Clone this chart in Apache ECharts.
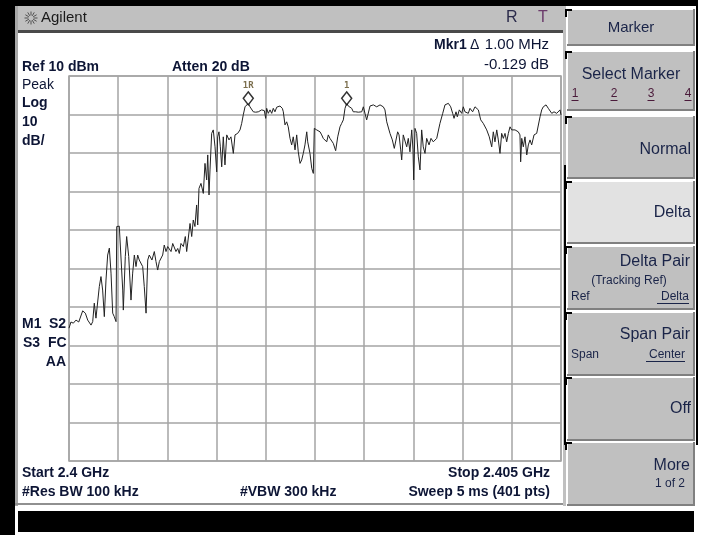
<!DOCTYPE html>
<html><head><meta charset="utf-8">
<script src="https://cdn.jsdelivr.net/npm/echarts@6/dist/echarts.min.js"></script>
<style>html,body{margin:0;padding:0;background:#fff}#c{width:711px;height:535px}</style>
</head><body><div id="c"></div>
<script>
// Frequency offset from start (MHz), start 2.4 GHz, stop 2.405 GHz
const freqMHz = [0,0.02,0.044,0.071,0.099,0.139,0.166,0.19,0.224,0.241,0.257,0.274,0.308,0.325,0.342,0.359,0.376,0.393,0.41,0.427,0.444,0.46,0.478,0.485,0.511,0.528,0.546,0.552,0.572,0.586,0.607,0.63,0.647,0.664,0.681,0.698,0.714,0.732,0.749,0.765,0.783,0.8,0.816,0.843,0.867,0.884,0.901,0.918,0.952,0.968,0.986,1.003,1.037,1.054,1.087,1.105,1.121,1.138,1.162,1.182,1.196,1.212,1.23,1.247,1.263,1.28,1.297,1.308,1.321,1.341,1.365,1.382,1.399,1.41,1.423,1.433,1.45,1.466,1.484,1.501,1.511,1.524,1.538,1.552,1.568,1.585,1.603,1.626,1.646,1.67,1.687,1.714,1.738,1.755,1.771,1.789,1.806,1.822,1.839,1.857,1.873,1.897,1.924,1.941,1.958,1.985,1.999,2.009,2.025,2.043,2.06,2.076,2.093,2.111,2.144,2.168,2.178,2.195,2.212,2.228,2.246,2.263,2.279,2.297,2.314,2.33,2.348,2.365,2.381,2.398,2.416,2.426,2.449,2.467,2.483,2.493,2.517,2.534,2.551,2.568,2.584,2.602,2.619,2.635,2.652,2.67,2.686,2.71,2.731,2.754,2.771,2.788,2.805,2.822,2.838,2.856,2.873,2.889,2.914,2.94,2.975,2.991,3.008,3.025,3.042,3.059,3.093,3.127,3.161,3.194,3.211,3.229,3.262,3.286,3.306,3.32,3.34,3.354,3.371,3.381,3.397,3.415,3.432,3.448,3.465,3.483,3.496,3.503,3.516,3.533,3.55,3.567,3.584,3.6,3.618,3.635,3.659,3.679,3.702,3.72,3.737,3.77,3.798,3.821,3.855,3.879,3.899,3.913,3.933,3.946,3.967,3.991,4.007,4.024,4.041,4.058,4.075,4.102,4.126,4.16,4.184,4.21,4.245,4.271,4.296,4.312,4.329,4.347,4.363,4.38,4.397,4.414,4.431,4.448,4.465,4.482,4.499,4.533,4.566,4.583,4.59,4.601,4.617,4.634,4.652,4.668,4.685,4.702,4.726,4.753,4.787,4.804,4.82,4.848,4.871,4.906,4.929,4.956,4.99,5.0];
const levelDbm = [-55.5,-53.9,-54.2,-53.4,-53.9,-51.0,-51.6,-53.4,-54.7,-53.8,-49.0,-52.9,-44.7,-42.1,-45.6,-52.5,-43.0,-36.5,-34.7,-41.2,-51.6,-52.5,-53.8,-29.1,-29.0,-29.5,-45.6,-50.8,-36.9,-31.7,-36.9,-48.2,-41.2,-36.5,-39.5,-36.5,-37.8,-37.4,-39.5,-44.7,-51.6,-37.8,-36.5,-37.8,-35.6,-38.2,-40.4,-38.2,-36.5,-33.9,-35.6,-34.3,-35.6,-33.5,-35.6,-34.8,-36.1,-33.5,-34.3,-31.7,-35.6,-35.6,-28.3,-31.7,-27.4,-29.1,-23.5,-28.7,-19.2,-17.9,-20.5,-12.7,-17.0,-10.5,-20.9,-14.4,-4.9,-4.0,-8.4,-14.9,-5.8,-4.5,-8.4,-13.6,-5.8,-13.1,-5.3,-6.6,-5.8,-10.1,-5.3,-4.9,-4.0,-2.3,-0.1,2.0,2.5,2.9,2.0,1.6,0.7,0.6,0.7,0.3,1.2,1.0,-1.0,1.6,0.3,1.2,0.3,1.6,0.7,1.9,2.2,1.6,0.7,-2.7,-1.9,-3.2,-6.2,-7.9,-5.8,-9.2,-5.3,-9.7,-12.7,-11.8,-10.1,-7.9,-4.5,-7.1,-10.1,-14.0,-15.3,-3.6,-4.0,-3.6,-4.5,-5.3,-6.2,-5.8,-7.1,-5.3,-6.2,-6.6,-7.5,-9.4,-5.8,-3.2,-2.3,-1.4,1.6,2.9,2.2,2.0,1.6,0.7,0.7,0.6,0.7,2.0,0.3,-1.4,-1.0,2.2,2.5,2.0,2.5,2.0,1.2,-1.9,-4.9,-6.6,-8.8,-9.2,-4.5,-5.3,-9.2,-11.8,-5.3,-4.9,-8.4,-6.2,-9.7,-4.0,-9.2,-17.0,-3.6,-4.9,-11.0,-14.4,-4.0,-8.4,-10.1,-6.2,-7.9,-6.2,-7.1,-7.5,-6.2,-2.3,0.3,2.5,2.9,2.0,0.3,-1.0,0.7,-0.6,1.2,0.3,2.0,0.7,1.2,0.3,1.6,0.7,2.0,1.2,-1.4,-2.3,-4.0,-5.8,-8.4,-4.5,-7.1,-4.0,-6.6,-10.1,-4.9,-6.2,-4.9,-7.1,-4.9,-3.2,-4.0,-4.0,-4.5,-5.3,-12.3,-6.2,-8.4,-5.8,-10.5,-7.9,-6.6,-7.9,-5.3,-4.9,-0.6,1.2,2.0,2.5,1.6,0.3,0.7,0.3,1.2,-0.1];
const markerNames = ['1R','1'];
const markerFreq = [1.822, 2.822];
const markerLevel = [2.9, 2.9];
const refLevel = 10, dbPerDiv = 10, divisions = 10;
const spanMHz = 5;

const trace = freqMHz.map((f,i)=>[f, levelDbm[i]]);
const markers = markerNames.map((n,i)=>({name:n, value:[markerFreq[i], markerLevel[i]]}));

const NAVY = '#0d1535';
const FB = 'bold 14px "Liberation Sans", Arial, sans-serif';
const FR = '14px "Liberation Sans", Arial, sans-serif';
const FR15 = '15px "Liberation Sans", Arial, sans-serif';
const SK = '16px "Liberation Sans", Arial, sans-serif';
const SKs = '12px "Liberation Sans", Arial, sans-serif';
const SKC = '#1a2448';

function txt(x,y,t,font,fill,align){
  return {type:'text', x:x, y:y, z:100, style:{text:t, font:font, fill:fill||NAVY, align:align||'left', textAlign:align||'left', verticalAlign:'middle', textVerticalAlign:'middle'}};
}
function rect(x,y,w,h,fill,stroke,lw){
  return {type:'rect', z:1, shape:{x:x,y:y,width:w,height:h}, style:{fill:fill, stroke:stroke||null, lineWidth:lw||0}};
}
function line(x1,y1,x2,y2,c,w,z){
  return {type:'line', z:z||50, shape:{x1:x1,y1:y1,x2:x2,y2:y2}, style:{stroke:c, lineWidth:w||1}};
}
function button(y,h,fill){
  return [
    rect(567,y,128,h,fill||'#c0c0c0'),
    line(567.5,y,567.5,y+h,'#ffffff',1,5),
    line(567,y+0.5,695,y+0.5,'#ffffff',1,5),
    line(694,y,694,y+h,'#808080',2,5),
    line(567,y+h-1,695,y+h-1,'#808080',2,5),
    line(566,y,566,y+8,'#000',2,6),
    line(566,y+1,572,y+1,'#000',2,6)
  ];
}

const g = [];
g.push(rect(0,0,15,535,'#000'));
g.push(rect(0,0,698,6,'#000'));
g.push(rect(696,0,2,445,'#000'));
// title bar
g.push(rect(15,6,550,25,'#c0c0c0'));
g.push(rect(17,30,548,3,'#4a4a4a'));
// left border of display
g.push(rect(15,6,3,500,'#a8a8a8'));
g.push(rect(15,503,550,2,'#909090'));
g.push(rect(563,6,3,500,'#c0c0c0'));
g.push(line(565,165,565,445,'#000',2,7));
// logo
for(let k=0;k<12;k++){
  const a = k*Math.PI/6;
  g.push(line(31+Math.cos(a)*2.5,18+Math.sin(a)*2.5,31+Math.cos(a)*6.5,18+Math.sin(a)*6.5,'#505050',1,60));
}
g.push(txt(41,18,'Agilent','15px "Liberation Sans", Arial, sans-serif','#1a1a1a'));
g.push(txt(506,18,'R','16px "Liberation Sans", Arial, sans-serif','#2a2a4a'));
g.push(txt(538,18,'T','16px "Liberation Sans", Arial, sans-serif','#6a3a6a'));

// softkeys
g.push(...button(9,37));
g.push(...button(51,60));
g.push(...button(116,63));
g.push(...button(181,63,'#e2e2e2'));
g.push(...button(246,64));
g.push(...button(312,64));
g.push(...button(377,64));
g.push(...button(442,64));
g.push(txt(631,28,'Marker','15px "Liberation Sans", Arial, sans-serif',SKC,'center'));
g.push(txt(631,75,'Select Marker',SK,SKC,'center'));
[[575,'1'],[614,'2'],[651,'3'],[688,'4']].forEach(([x,t])=>{
  g.push(txt(x,94,t,SKs,'#4a1a3a','center'));
  g.push(line(x-3.5,100.5,x+3.5,100.5,'#4a1a3a',1,60));
});
g.push(txt(691,150,'Normal',SK,SKC,'right'));
g.push(txt(691,213,'Delta',SK,SKC,'right'));
g.push(txt(690,262,'Delta Pair',SK,SKC,'right'));
g.push(txt(629,281,'(Tracking Ref)',SKs,SKC,'center'));
g.push(txt(571,297,'Ref',SKs,SKC,'left'));
g.push(txt(689,297,'Delta',SKs,SKC,'right'));
g.push(line(657,303.5,689,303.5,SKC,1,60));
g.push(txt(690,335,'Span Pair',SK,SKC,'right'));
g.push(txt(571,355,'Span',SKs,SKC,'left'));
g.push(txt(685,355,'Center',SKs,SKC,'right'));
g.push(line(646,361.5,685,361.5,SKC,1,60));
g.push(txt(691,409,'Off',SK,SKC,'right'));
g.push(txt(690,466,'More',SK,SKC,'right'));
g.push(txt(685,484,'1 of 2',SKs,SKC,'right'));

// display annotations
g.push(txt(434,45,'Mkr1',FB));
g.push(txt(470,45,'\u0394',FR,NAVY,'left'));
g.push(txt(549,45,'1.00 MHz',FR15,NAVY,'right'));
g.push(txt(549,65,'-0.129 dB',FR15,NAVY,'right'));
g.push(txt(22,67,'Ref 10 dBm',FB));
g.push(txt(172,67,'Atten 20 dB',FB));
g.push(txt(22,85,'Peak',FR));
g.push(txt(22,103,'Log',FB));
g.push(txt(22,122,'10',FB));
g.push(txt(22,141,'dB/',FB));
g.push(txt(22,324,'M1',FB));
g.push(txt(49,324,'S2',FB));
g.push(txt(23,343,'S3',FB));
g.push(txt(48,343,'FC',FB));
g.push(txt(66,362,'AA',FB,NAVY,'right'));
g.push(txt(22,473,'Start 2.4 GHz',FB));
g.push(txt(550,473,'Stop 2.405 GHz',FB,NAVY,'right'));
g.push(txt(22,492,'#Res BW 100 kHz',FB));
g.push(txt(240,492,'#VBW 300 kHz',FB));
g.push(txt(550,492,'Sweep 5 ms (401 pts)',FB,NAVY,'right'));
// bottom status bar
g.push(rect(18,511,676,21,'#000'));

const chart = echarts.init(document.getElementById('c'), null, {renderer:'canvas'});
chart.setOption({
  animation:false,
  backgroundColor:'#fff',
  graphic:{elements:g},
  grid:{left:69, top:76, width:492, height:385, show:true, borderColor:'#a4a4a4', borderWidth:1.5},
  xAxis:{type:'value', min:0, max:spanMHz, interval:spanMHz/divisions, axisLabel:{show:false}, axisTick:{show:false}, axisLine:{show:false}, splitLine:{show:true, lineStyle:{color:'#a4a4a4', width:1.5}}},
  yAxis:{type:'value', min:refLevel-dbPerDiv*divisions, max:refLevel, interval:dbPerDiv, axisLabel:{show:false}, axisTick:{show:false}, axisLine:{show:false}, splitLine:{show:true, lineStyle:{color:'#a4a4a4', width:1.5}}},
  series:[
    {type:'line', data:trace, showSymbol:false, symbol:'none', lineStyle:{color:'#222', width:1}, z:10, silent:true},
    {type:'scatter', data:markers, symbol:'diamond', symbolSize:[10,13], symbolOffset:[0,-5], z:12,
     itemStyle:{color:'#fff', borderColor:'#000', borderWidth:1.5},
     label:{show:true, position:'top', distance:1, formatter:p=>p.name, fontFamily:'"DejaVu Sans Mono", monospace', fontWeight:'bold', fontSize:9, color:'#5a4a20'}}
  ]
});
</script></body></html>
